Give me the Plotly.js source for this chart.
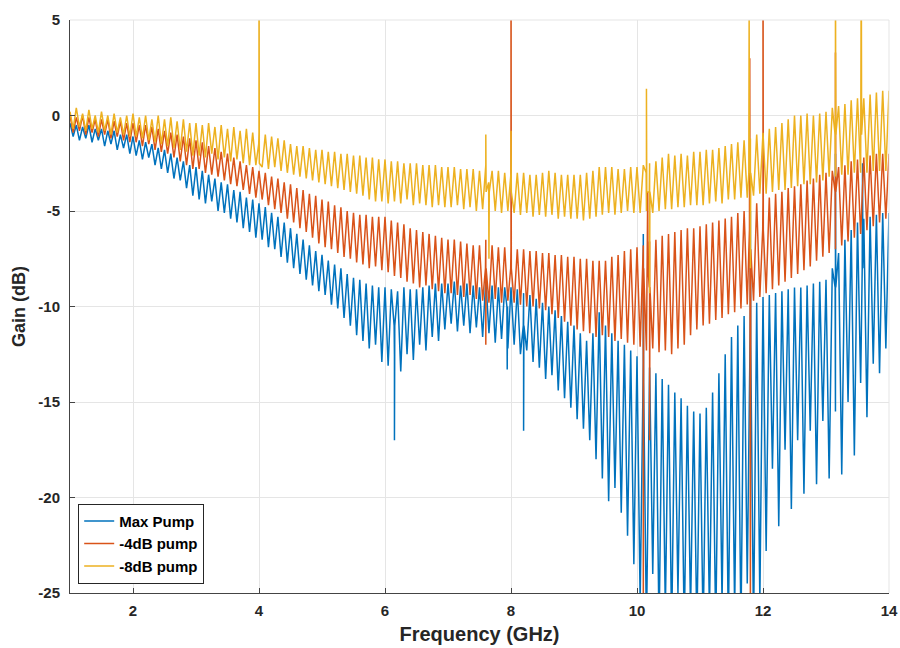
<!DOCTYPE html>
<html>
<head>
<meta charset="utf-8">
<script src="https://cdn.plot.ly/plotly-3.0.1.min.js"></script>
<style>html,body{margin:0;padding:0;background:#fff;}#chart{width:900px;height:648px;}</style>
</head>
<body>
<div id="chart"></div>
<script>
// Frequency grid: 1.00 .. 14.00 GHz in 0.05 GHz steps (one row below = 1 GHz)
const freq = [];
for (let k = 0; k <= 260; k++) freq.push(Math.round((1 + k * 0.05) * 100) / 100);

// Max Pump (dB)
const maxPump = [
-0.4,-1.1,-0.5,-1.3,-0.6,-1.2,-0.5,-1.4,-0.7,-1.3,-0.7,-1.6,-0.8,-1.5,-0.8,-1.8,-1.0,-1.7,-1.0,-2.0,
-1.1,-2.1,-1.3,-2.3,-1.4,-2.2,-1.5,-2.6,-1.7,-2.8,-1.8,-3.0,-2.0,-3.3,-2.2,-3.4,-2.4,-3.8,-2.6,-4.2,
-2.7,-4.4,-2.9,-4.6,-3.1,-4.5,-3.3,-5.0,-3.5,-5.1,-3.6,-5.4,-3.9,-5.6,-4.0,-5.9,-4.3,-6.1,-4.4,-6.4,
-4.6,-6.5,-4.8,-6.9,-5.1,-7.0,-5.3,-7.4,-5.6,-7.7,-5.9,-8.0,-6.2,-8.3,-6.5,-8.6,-6.8,-8.9,-7.1,-9.2,
-7.3,-9.4,-7.6,-9.9,-7.8,-10.1,-8.0,-10.6,-8.3,-11.0,-8.5,-11.5,-8.6,-11.8,-8.8,-12.2,-8.9,-12.0,-9.0,-12.9,
-9.0,-13.1,-9.1,-12.6,-9.2,-13.4,-9.0,-12.5,-9.1,-12.8,-9.1,-12.0,-9.0,-12.3,-8.9,-11.6,-8.8,-11.8,-8.8,-11.2,
-8.8,-10.9,-8.7,-11.3,-8.9,-11.0,-8.8,-11.4,-8.9,-11.1,-9.0,-11.6,-8.6,-11.4,-8.9,-11.9,-9.0,-11.7,-9.0,-12.2,
-9.0,-12.0,-9.1,-12.5,-9.3,-12.3,-9.4,-12.9,-9.6,-13.2,-9.8,-13.8,-10.0,-13.6,-10.2,-14.4,-10.5,-14.8,-10.8,-15.3,
-11.0,-15.9,-11.4,-16.4,-11.8,-17.0,-11.4,-18.0,-10.3,-19.0,-11.0,-20.2,-11.4,-19.5,-11.8,-20.8,-12.0,-22.0,-12.3,-23.5,
-12.6,-25.5,-13.0,-27.0,-13.2,-24.0,-13.5,-27.0,-13.8,-26.0,-14.1,-27.0,-14.5,-25.0,-14.8,-27.0,-15.2,-26.0,-15.5,-27.0,
-15.6,-27.0,-15.3,-26.0,-14.5,-27.0,-13.5,-25.5,-12.5,-27.0,-11.6,-26.0,-11.0,-27.0,-10.5,-24.5,-10.2,-27.0,-9.8,-25.5,
-9.5,-22.8,-9.4,-18.5,-9.3,-21.5,-9.2,-17.5,-9.1,-20.6,-9.0,-17.0,-9.0,-19.8,-8.9,-16.5,-8.8,-19.3,-8.7,-16.0,
-8.6,-19.0,-8.0,-15.5,-7.2,-18.8,-6.5,-15.0,-6.0,-17.8,-5.6,-14.0,-5.4,-15.8,-5.3,-13.0,-5.2,-13.5,-5.1,-12.2,
-5.1];

// -4dB pump (dB)
const pump4 = [
0.0,-0.9,-0.1,-0.8,0.0,-1.0,-0.1,-0.9,-0.2,-1.1,-0.2,-1.0,-0.2,-1.2,-0.3,-1.1,-0.3,-1.3,-0.4,-1.4,
-0.4,-1.4,-0.5,-1.6,-0.5,-1.5,-0.6,-1.8,-0.7,-1.9,-0.8,-2.0,-0.9,-2.2,-1.0,-2.4,-1.1,-2.6,-1.2,-2.8,
-1.3,-2.8,-1.4,-3.0,-1.6,-3.1,-1.7,-3.2,-1.9,-3.4,-2.0,-3.6,-2.2,-3.7,-2.4,-3.9,-2.6,-4.1,-2.7,-4.3,
-2.9,-4.4,-3.0,-4.7,-3.2,-4.9,-3.3,-5.1,-3.5,-5.4,-3.6,-5.6,-3.8,-5.9,-3.9,-6.1,-4.1,-6.4,-4.2,-6.7,
-4.4,-6.9,-4.5,-7.0,-4.7,-7.2,-4.8,-7.4,-5.0,-7.5,-5.1,-7.7,-5.2,-7.8,-5.2,-8.0,-5.3,-7.9,-5.3,-8.1,
-5.3,-8.2,-5.5,-8.4,-5.6,-8.5,-5.7,-8.7,-5.9,-8.8,-6.0,-9.0,-6.1,-8.9,-6.2,-9.1,-6.3,-9.2,-6.4,-9.3,
-6.5,-9.3,-6.5,-9.4,-6.6,-9.5,-6.7,-9.4,-6.8,-9.6,-6.8,-9.7,-6.5,-9.8,-6.8,-9.6,-6.9,-9.8,-6.9,-9.7,
-6.9,-9.8,-7.0,-9.9,-7.0,-10.0,-7.1,-10.0,-7.1,-10.1,-7.2,-10.2,-7.2,-10.4,-7.3,-10.6,-7.3,-10.8,-7.4,-11.0,
-7.4,-11.2,-7.5,-11.3,-7.5,-11.4,-7.6,-11.6,-7.6,-11.5,-7.6,-11.6,-7.4,-11.8,-7.3,-11.7,-7.1,-11.9,-7.0,-12.0,
-6.9,-12.1,-6.8,-12.3,-6.6,-12.2,-6.5,-12.4,-6.3,-12.3,-6.2,-12.5,-6.1,-12.2,-6.0,-12.0,-5.9,-11.5,-5.9,-11.2,
-5.8,-11.0,-5.7,-10.9,-5.6,-10.7,-5.5,-10.6,-5.4,-10.4,-5.3,-10.3,-5.1,-10.1,-5.0,-9.9,-4.8,-9.7,-4.6,-9.5,
-4.4,-9.3,-4.3,-9.1,-4.1,-8.9,-4.0,-8.7,-3.8,-8.5,-3.7,-8.3,-3.6,-8.1,-3.4,-7.9,-3.3,-7.6,-3.1,-7.4,
-3.0,-7.2,-2.9,-7.0,-2.7,-6.8,-2.6,-6.6,-2.4,-6.4,-2.3,-6.2,-2.2,-6.0,-2.1,-5.8,-2.0,-5.6,-2.0,-5.4,
-2.0];

// -8dB pump (dB)
const pump8 = [
0.2,-0.7,0.4,-0.6,0.1,-0.8,0.3,-0.7,0.0,-0.9,0.2,-0.8,0.0,-1.0,0.1,-0.9,-0.1,-1.0,0.0,-1.1,
0.1,-1.1,-0.1,-1.2,0.0,-1.3,-0.2,-1.4,0.0,-1.5,-0.2,-1.6,-0.1,-1.7,-0.3,-1.8,-0.2,-1.9,-0.4,-2.1,
-0.4,-2.1,-0.5,-2.2,-0.4,-2.0,-0.6,-2.3,-0.5,-2.2,-0.7,-2.4,-0.6,-2.3,-0.8,-2.5,-0.7,-2.6,-0.9,-2.6,
-0.9,-2.7,-1.0,-2.8,-1.1,-2.7,-1.2,-2.9,-1.3,-3.0,-1.5,-3.1,-1.6,-3.2,-1.6,-3.3,-1.7,-3.4,-1.8,-3.5,
-1.8,-3.6,-1.9,-3.7,-1.9,-3.8,-2.0,-3.9,-2.0,-4.0,-2.1,-4.1,-2.1,-4.2,-2.2,-4.4,-2.2,-4.5,-2.3,-4.5,
-2.3,-4.6,-2.4,-4.5,-2.4,-4.6,-2.5,-4.4,-2.5,-4.7,-2.5,-4.6,-2.6,-4.7,-2.6,-4.8,-2.6,-4.7,-2.7,-4.8,
-2.7,-4.8,-2.7,-4.7,-2.8,-4.9,-2.8,-4.8,-2.8,-5.0,-2.9,-4.9,-2.6,-5.2,-2.9,-5.0,-2.9,-5.1,-3.0,-5.0,
-3.0,-5.1,-3.0,-5.2,-3.0,-5.1,-3.1,-5.3,-3.1,-5.2,-3.0,-5.3,-2.9,-5.2,-3.0,-5.4,-3.1,-5.3,-3.1,-5.4,
-3.1,-5.4,-3.1,-5.5,-3.0,-5.4,-2.9,-5.3,-2.7,-5.2,-2.7,-5.1,-2.7,-5.2,-2.8,-5.1,-2.8,-5.0,-2.7,-5.1,
-2.7,-5.1,-2.6,-5.0,-2.5,-5.1,-2.4,-5.0,-2.2,-4.9,-2.0,-4.9,-2.1,-4.8,-2.0,-4.8,-2.1,-4.7,-1.9,-4.7,
-1.9,-4.7,-1.8,-4.6,-1.8,-4.5,-1.7,-4.6,-1.6,-4.4,-1.5,-4.4,-1.4,-4.3,-1.3,-4.3,-1.2,-4.2,-1.0,-4.1,
-0.9,-4.1,-0.7,-4.0,-0.6,-3.9,-0.4,-3.9,-0.2,-3.8,0.0,-3.7,0.0,-3.6,0.1,-3.6,0.0,-3.5,0.1,-3.4,
0.2,-3.2,0.4,-3.2,0.5,-3.1,0.6,-3.1,0.8,-3.0,0.9,-3.0,0.9,-3.0,1.1,-2.9,1.2,-2.9,1.3,-2.9,
1.3];

// Narrow spurs (frequency GHz, dB)
const maxPumpSpurF = [6.145,6.15,6.155, 7.935,7.94,7.945, 8.195,8.2,8.205, 10.095,10.1,10.105, 11.795,11.8,11.805, 13.145,13.15,13.155, 13.575,13.58,13.585];
const maxPumpSpurV = [-11,-17,-11, -10,-13.3,-10, -11,-16.5,-11, -14,-6.2,-14, -12,-5,-12, -9,-2,-9, -8,-2.5,-8];
const pump4SpurF = [7.595,7.6,7.605, 7.995,8.0,8.005, 10.095,10.1,10.105, 10.165,10.17,10.175, 10.195,10.2,10.205, 11.785,11.79,11.795,11.8,11.805, 11.995,12.0,12.005, 13.145,13.15,13.155];
const pump4SpurV = [-8,-12,-8, -8,9,-8, -8,-27,-8, -8,-4,-8, -9,-17,-9, -6,3,-7,-27,-7, -6,9,-6, -4,3.3,-4];
const pump8SpurF = [3.995,4.0,4.005, 7.595,7.6,7.605, 7.645,7.65,7.655, 7.995,8.0,8.005, 10.145,10.15,10.155, 10.195,10.2,10.205, 11.775,11.78,11.785,11.8,11.805, 13.145,13.15,13.155, 13.555,13.56,13.565];
const pump8SpurV = [-1.5,9,-2.5, -3,-1.0,-4, -3.5,-7.5,-4, -3.5,-0.8,-4, -3,1.4,-4, -4,-9.3,-4, -3,5.2,-3,-8,-3, -1,9,-1, -0.5,9,-1];

const seriesNames = ['Max Pump', '-4dB pump', '-8dB pump'];
const seriesColors = ['#0072BD', '#D95319', '#EDB120'];
const xTicks = [2,4,6,8,10,12,14];
const yTicks = [-25,-20,-15,-10,-5,0,5];

function merge(f, v, sf, sv) {
  const pts = f.map((x, i) => [x, v[i]]).concat(sf.map((x, i) => [x, sv[i]]));
  pts.sort((a, b) => a[0] - b[0]);
  return {x: pts.map(p => p[0]), y: pts.map(p => p[1])};
}

const sets = [
  merge(freq, maxPump, maxPumpSpurF, maxPumpSpurV),
  merge(freq, pump4, pump4SpurF, pump4SpurV),
  merge(freq, pump8, pump8SpurF, pump8SpurV)
];

const traces = sets.map((s, i) => ({
  x: s.x, y: s.y, type: 'scatter', mode: 'lines', name: seriesNames[i],
  line: {color: seriesColors[i], width: 1.5}
}));

const tickFont = {family: 'Liberation Sans, Arial, sans-serif', size: 15, color: '#262626', weight: 'bold'};
const layout = {
  width: 900, height: 648,
  margin: {l: 70, r: 11, t: 20, b: 55},
  paper_bgcolor: '#fff', plot_bgcolor: '#fff',
  showlegend: true,
  xaxis: {
    range: [1, 14], tickvals: xTicks, ticktext: xTicks.map(String),
    showgrid: true, gridcolor: '#e5e5e5', gridwidth: 1,
    zeroline: false, showline: true, linecolor: '#444', linewidth: 1,
    ticks: 'inside', ticklen: 5, tickcolor: '#444', ticklabelstandoff: 4,
    tickfont: tickFont,
    title: {text: 'Frequency (GHz)', font: {family: 'Liberation Sans, Arial, sans-serif', size: 20, color: '#262626', weight: 'bold'}, standoff: 8}
  },
  yaxis: {
    range: [-25, 5], tickvals: yTicks, ticktext: yTicks.map(String),
    showgrid: true, gridcolor: '#e5e5e5', gridwidth: 1,
    zeroline: false, showline: true, linecolor: '#444', linewidth: 1,
    ticks: 'inside', ticklen: 5, tickcolor: '#444', ticklabelstandoff: 6,
    tickfont: tickFont,
    title: {text: 'Gain (dB)', font: {family: 'Liberation Sans, Arial, sans-serif', size: 18, color: '#262626', weight: 'bold'}, standoff: 8}
  },
  legend: {
    x: 0.01, y: 0.016, xanchor: 'left', yanchor: 'bottom',
    bgcolor: '#fff', bordercolor: '#262626', borderwidth: 1,
    font: {family: 'Liberation Sans, Arial, sans-serif', size: 15, color: '#000', weight: 'bold'},
    tracegroupgap: 0, itemwidth: 30
  },
  shapes: [
    {type: 'line', xref: 'paper', yref: 'paper', x0: 0, x1: 1, y0: 1, y1: 1, line: {color: '#e5e5e5', width: 1}},
    {type: 'line', xref: 'paper', yref: 'paper', x0: 1, x1: 1, y0: 0, y1: 1, line: {color: '#e5e5e5', width: 1}}
  ]
};

Plotly.newPlot('chart', traces, layout, {displayModeBar: false, staticPlot: true});
</script>
</body>
</html>
